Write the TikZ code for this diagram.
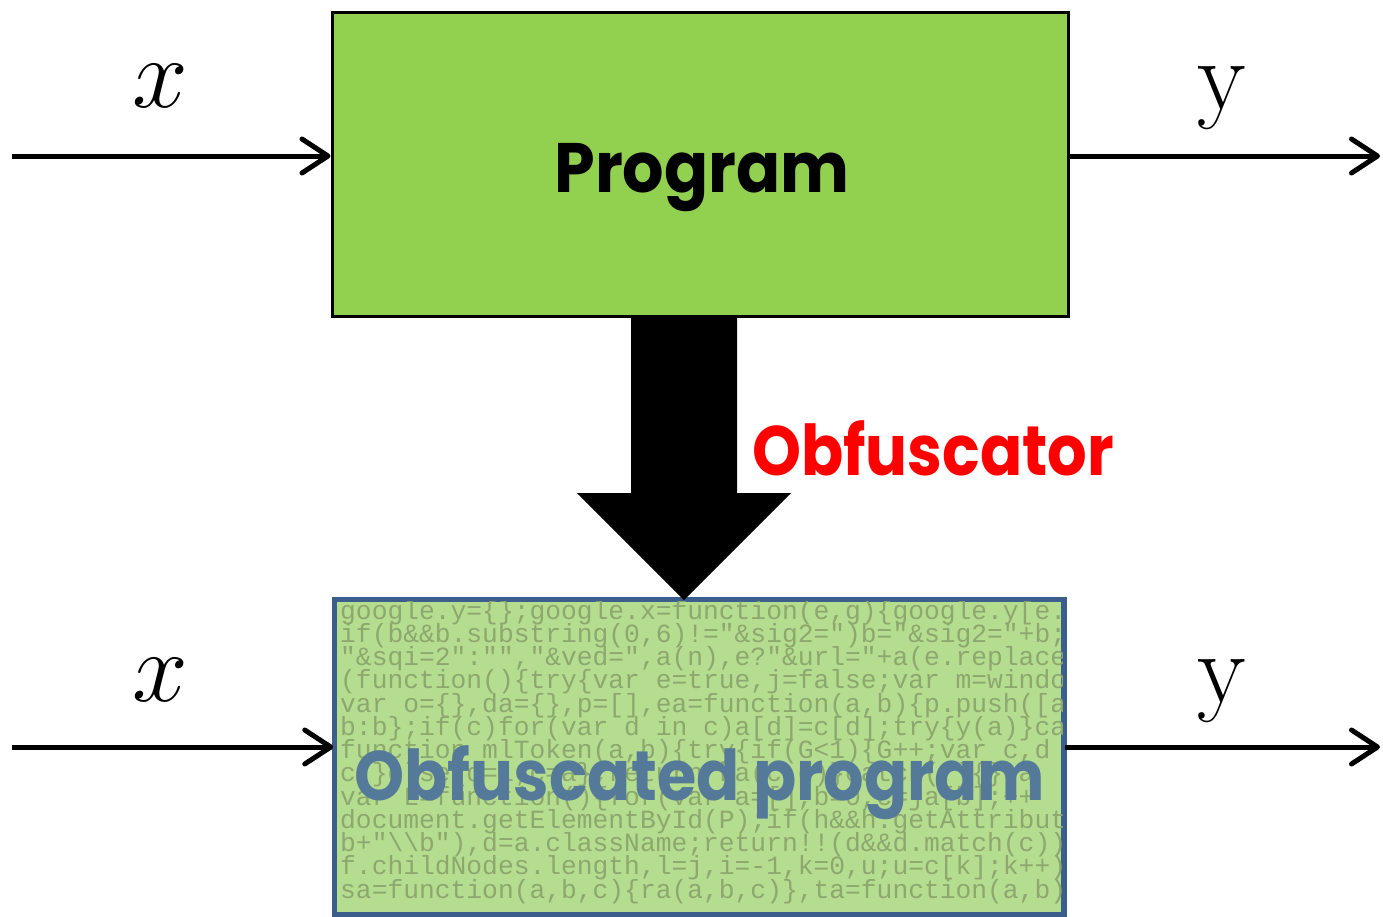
\RequirePackage{fix-cm}
\documentclass[tikz,border=0pt]{standalone}
\usepackage{fontspec}
\setsansfont{Poppins}
\newfontfamily\codefont{Liberation Mono}
\usetikzlibrary{arrows.meta}

\definecolor{progGreen}{HTML}{92D050}
\definecolor{codeFill}{HTML}{B5DD8F}
\definecolor{codeInk}{HTML}{8CA86E}
\definecolor{obfBlue}{HTML}{557A99}
\definecolor{boxBlue}{HTML}{3B5E8D}
\definecolor{obfRed}{HTML}{FF0000}

\def \lineSkip {23.25}

\tikzset{
   flow/.style={line width=5pt, -{Straight Barb[round,length=26pt,width=34pt]}},
   signal/.style={font=\fontsize{100}{100}\selectfont, inner sep=0pt},
   title/.style={font=\sffamily\bfseries\fontsize{70}{70}\selectfont, inner sep=0pt},
   codeline/.style={anchor=base west, inner sep=0pt, text=codeInk,
      font=\codefont\fontsize{26.3}{26.3}\selectfont}
}

\begin{document}
\begin{tikzpicture}[x=1pt, y=-1pt]

      \useasboundingbox (0,0) rectangle (1383,916);

      % plain program
      \node[draw=black, line width=3pt, fill=progGreen, inner sep=0pt,
            minimum width=736pt, minimum height=304pt] (prog) at (700,164) {};
      \node[title, anchor=base] (progText) at (702,192) {\scalebox{0.93}[1]{Program}};

      \coordinate (xinTop) at (12,156);
      \coordinate (youtTop) at (1380,156);
      \draw[flow] (xinTop) -- (xinTop -| prog.west);
      \draw[flow] (youtTop -| prog.east) -- (youtTop);
      \node[signal] (xTop) at (160,86) {$x$};
      \node[signal] (yTop) at (1222,98) {$\mathrm{y}$};

      % obfuscated program
      \node[draw=boxBlue, line width=3.5pt, fill=codeFill, inner sep=0pt,
            minimum width=728pt, minimum height=314pt] (obf) at (699,757) {};

      \begin{scope}
         \clip (335,601) rectangle (1062,913);
         \node[codeline] (c1) at (340, {619+0*\lineSkip}) {google.y=\{\};google.x=function(e,g)\{google.y[e.};
         \node[codeline] (c2) at (340, {619+1*\lineSkip}) {if(b\&\&b.substring(0,6)!="\&sig2=")b="\&sig2="+b;};
         \node[codeline] (c3) at (340, {619+2*\lineSkip}) {"\&sqi=2":"","\&ved=",a(n),e?"\&url="+a(e.replace};
         \node[codeline] (c4) at (340, {619+3*\lineSkip}) {(function()\{try\{var e=true,j=false;var m=windo};
         \node[codeline] (c5) at (340, {619+4*\lineSkip}) {var o=\{\},da=\{\},p=[],ea=function(a,b)\{p.push([a};
         \node[codeline] (c6) at (340, {619+5*\lineSkip}) {b:b\};if(c)for(var d in c)a[d]=c[d];try\{y(a)\}ca};
         \node[codeline] (c7) at (340, {619+6*\lineSkip}) {function mlToken(a,b)\{try\{if(G<1)\{G++;var c,d};
         \node[codeline] (c8) at (340, {619+7*\lineSkip}) {c;\}else\{d=1;c=a\};return ka(c,d)\}catch(f)\{\};a};
         \node[codeline] (c9) at (340, {619+8*\lineSkip}) {var L=function()\{for(var a=[],b=0,c=ja[b];++};
         \node[codeline] (c10) at (340, {619+9*\lineSkip}) {document.getElementById(P);if(h\&\&h.getAttribute};
         \node[codeline] (c11) at (340, {619+10*\lineSkip}) {b+"\textbackslash\textbackslash b"),d=a.className;return!!(d\&\&d.match(c))};
         \node[codeline] (c12) at (340, {619+11*\lineSkip}) {f.childNodes.length,l=j,i=-1,k=0,u;u=c[k];k++)};
         \node[codeline] (c13) at (340, {619+12*\lineSkip}) {sa=function(a,b,c)\{ra(a,b,c)\},ta=function(a,b)};
      \end{scope}
      \draw[draw=boxBlue, line width=3.5pt] (obf.north west) rectangle (obf.south east);
      \node[title, anchor=base, text=obfBlue] (obfText) at (700,800) {\scalebox{0.91}[1]{Obfuscated program}};

      \coordinate (xinBot) at (12,747);
      \coordinate (youtBot) at (1380,747);
      \draw[flow] (xinBot) -- (xinBot -| obf.west);
      \draw[flow] (youtBot -| obf.east) -- (youtBot);
      \node[signal] (xBot) at (160,680) {$x$};
      \node[signal] (yBot) at (1222,691) {$\mathrm{y}$};

      % the obfuscator arrow
      \fill[black] (631,316) -- (737,316) -- (737,493) -- (791,493) -- (684,600)
         -- (577,493) -- (631,493) -- cycle;
      \node[title, anchor=base west, text=obfRed] (obfuscator) at (752,475) {\scalebox{0.89}[1]{Obfuscator}};

   \end{tikzpicture}
\end{document}
